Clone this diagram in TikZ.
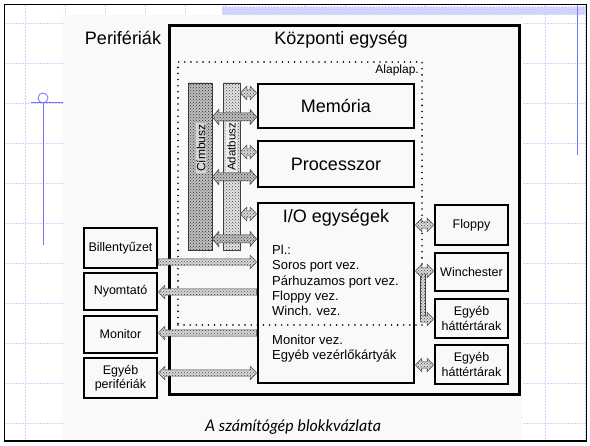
\documentclass[tikz,border=0pt]{standalone}
\usepackage{fontspec}
\setmainfont{Liberation Sans}
\newfontfamily\capfont{Lato}
\usetikzlibrary{patterns,calc}
\def\fatw{3.2pt}\def\fath{6.8pt}\def\fatl{6.5pt}
\tikzset{
  big/.style={font=\fontsize{18}{20}\selectfont},
  small/.style={font=\fontsize{12.5}{14.5}\selectfont},
  iotext/.style={font=\fontsize{13}{15}\selectfont, anchor=base west, inner sep=0pt},
  thickbox/.style={draw, line width=2.8pt, inner sep=0pt, align=center},
  lightfat/.style={draw=gray!50!black, line width=0.5pt, preaction={fill=gray!30}, pattern=crosshatch dots, pattern color=gray!55!black},
  darkfat/.style={draw=gray!45!black, line width=0.5pt, preaction={fill=gray!50}, pattern=crosshatch dots, pattern color=gray!35!black},
  wide/.code={\def\fatw{4pt}\def\fath{7.5pt}},
  fatR/.style={to path={let \p1=(\tikztostart), \p2=(\tikztotarget) in
     (\x1,\y1+\fatw) -- (\x2-\fatl,\y1+\fatw) -- (\x2-\fatl,\y1+\fath) -- (\x2,\y1) -- (\x2-\fatl,\y1-\fath) -- (\x2-\fatl,\y1-\fatw) -- (\x1,\y1-\fatw) -- cycle}},
  fatL/.style={to path={let \p1=(\tikztostart), \p2=(\tikztotarget) in
     (\x1,\y1) -- (\x1+\fatl,\y1+\fath) -- (\x1+\fatl,\y1+\fatw) -- (\x2,\y1+\fatw) -- (\x2,\y1-\fatw) -- (\x1+\fatl,\y1-\fatw) -- (\x1+\fatl,\y1-\fath) -- cycle}},
  fatLR/.style={to path={let \p1=(\tikztostart), \p2=(\tikztotarget) in
     (\x1,\y1) -- (\x1+\fatl,\y1+\fath) -- (\x1+\fatl,\y1+\fatw) -- (\x2-\fatl,\y1+\fatw) -- (\x2-\fatl,\y1+\fath) -- (\x2,\y1) -- (\x2-\fatl,\y1-\fath) -- (\x2-\fatl,\y1-\fatw) -- (\x1+\fatl,\y1-\fatw) -- (\x1+\fatl,\y1-\fath) -- cycle}},
  gridline/.style={blue!18, densely dotted, line width=0.5pt},
  guide/.style={blue!55, line width=0.8pt},
}
\begin{document}
\begin{tikzpicture}[x=1pt,y=-1pt]
\useasboundingbox (0,0) rectangle (590,446);
\fill[white] (0,0) rectangle (590,446);
% slide grid
\foreach \gx in {25,65,...,585} \draw[gridline] (\gx,5) -- (\gx,441);
\foreach \gy in {23,63,...,423} \draw[gridline] (5,\gy) -- (586,\gy);
% scanned page
\fill[gray!5] (63,15) rectangle (522,441);
% top band
\fill[blue!15] (222,7) rectangle (586,15);
\fill[pattern=crosshatch dots, pattern color=blue!30] (222,7) rectangle (586,15);
% frame
\draw[line width=1.6pt] (4.5,4.5) rectangle (586.5,441);
% blue guides
\draw[guide] (31,102) -- (63,102);
\draw[guide] (43,98) circle (5);
\draw[guide] (43,102) -- (43,245);
\draw[guide] (577,5) -- (577,155);

% level coordinates
\coordinate (yA1) at (0,93);  \coordinate (yC1) at (0,117);
\coordinate (yA2) at (0,152); \coordinate (yC2) at (0,177);
\coordinate (yA3) at (0,214); \coordinate (yC3) at (0,239);
\coordinate (ybill) at (0,262); \coordinate (ynyom) at (0,292);
\coordinate (ymon) at (0,333);  \coordinate (yegyp) at (0,373);
\coordinate (yflop) at (0,225); \coordinate (ywin) at (0,271);
\coordinate (yhat2) at (0,365);
\coordinate (wtop) at (423,271); \coordinate (wbot) at (423,319);

% titles
\node[big, anchor=base] (pert) at (123,45) {Perifériák};
\node[big, anchor=base] (kozt) at (341,45) {Központi egység};
\node[font=\fontsize{12}{12}\selectfont, anchor=base east, inner sep=0pt] (alapt) at (419,74) {Alaplap.};

% main board (dotted)
\node[draw=black, line width=1.8pt, dash pattern=on 0pt off 6.1pt, line cap=round,
      minimum width=244pt, minimum height=263pt, inner sep=0pt] (alap) at (300,193.5) {};

% buses
\node[darkfat, minimum width=24pt, minimum height=167pt, inner sep=0pt] (cim) at (200,166.5) {};
\node[lightfat, preaction={fill=gray!22}, minimum width=17pt, minimum height=167pt, inner sep=0pt] (adat) at (231.5,166.5) {};
\node[rotate=90, font=\fontsize{12}{13}\selectfont, fill=gray!32, inner sep=1pt] (cimt) at (201,148) {Címbusz};
\node[rotate=90, font=\fontsize{11.5}{12}\selectfont, fill=gray!14, inner sep=0.8pt] (adatt) at (231.5,147) {Adatbusz};

% CPU boxes
\node[thickbox, big, minimum width=156pt, minimum height=44pt] (mem) at (336,106) {Memória};
\node[thickbox, big, minimum width=156pt, minimum height=46pt] (proc) at (336,164) {Processzor};
\node[thickbox, minimum width=156pt, minimum height=180pt] (io) at (336,293) {};
\node[thickbox, line width=3pt, minimum width=350pt, minimum height=369pt] (cpu) at (344,210.5) {};

% bus arrows
\draw[lightfat, fatLR] (adat.east |- yA1) to (mem.west |- yA1);
\draw[lightfat, fatLR] (adat.east |- yA2) to (proc.west |- yA2);
\draw[lightfat, fatLR] (adat.east |- yA3) to (io.west |- yA3);
\draw[darkfat, wide, fatLR] (cim.east |- yC1) to (mem.west |- yC1);
\draw[darkfat, wide, fatLR] (cim.east |- yC2) to (proc.west |- yC2);
\draw[darkfat, wide, fatLR] (cim.east |- yC3) to (io.west |- yC3);

% I/O texts
\node[big, anchor=base] (iot) at (336,223) {I/O egységek};
\node[iotext] (l1) at (272,255) {Pl.:};
\node[iotext] (l2) at (272,270) {Soros port vez.};
\node[iotext] (l3) at (272,285.5) {Párhuzamos port vez.};
\node[iotext] (l4) at (272,301) {Floppy vez.};
\node[iotext] (l5) at (272,316) {Winch. vez.};
\node[iotext] (l6) at (272,344.5) {Monitor vez.};
\node[iotext] (l7) at (272,359.5) {Egyéb vezérlőkártyák};

% peripherals
\node[thickbox, small, minimum width=73pt, minimum height=40pt] (bill) at (120.5,248) {Billentyűzet};
\node[thickbox, small, minimum width=73pt, minimum height=37pt] (nyom) at (120.5,291.5) {Nyomtató};
\node[thickbox, small, minimum width=73pt, minimum height=37pt] (mon) at (120.5,334.5) {Monitor};
\node[thickbox, small, minimum width=73pt, minimum height=40pt] (egyp) at (120.5,378) {Egyéb\\perifériák};

% storage
\node[thickbox, small, minimum width=73pt, minimum height=40pt] (flop) at (471.5,225) {Floppy};
\node[thickbox, small, minimum width=73pt, minimum height=38pt] (winch) at (471.5,272) {Winchester};
\node[thickbox, small, minimum width=73pt, minimum height=39pt] (hat1) at (471.5,318.5) {Egyéb\\háttértárak};
\node[thickbox, small, minimum width=73pt, minimum height=39pt] (hat2) at (471.5,364.5) {Egyéb\\háttértárak};

% peripheral arrows
\draw[lightfat, fatR] (bill.east |- ybill) to (io.west |- ybill);
\draw[lightfat, fatL] (nyom.east |- ynyom) to (io.west |- ynyom);
\draw[lightfat, fatL] (mon.east |- ymon) to (io.west |- ymon);
\draw[lightfat, fatLR] (egyp.east |- yegyp) to (io.west |- yegyp);

% storage arrows
\draw[lightfat] ([xshift=-2.5pt]wtop) rectangle ([xshift=2.5pt]wbot);
\draw[lightfat, fatLR] (io.east |- yflop) to (flop.west |- yflop);
\draw[lightfat, fatLR] (io.east |- ywin) to (winch.west |- ywin);
\draw[lightfat, fatR] ([xshift=-2.5pt]wbot) to (hat1.west |- wbot);
\draw[lightfat, fatLR] (io.east |- yhat2) to (hat2.west |- yhat2);

% caption
\node[font=\capfont\itshape\fontsize{16}{16}\selectfont, anchor=base] (cap) at (293,432) {A számítógép blokkvázlata};
\end{tikzpicture}
\end{document}
